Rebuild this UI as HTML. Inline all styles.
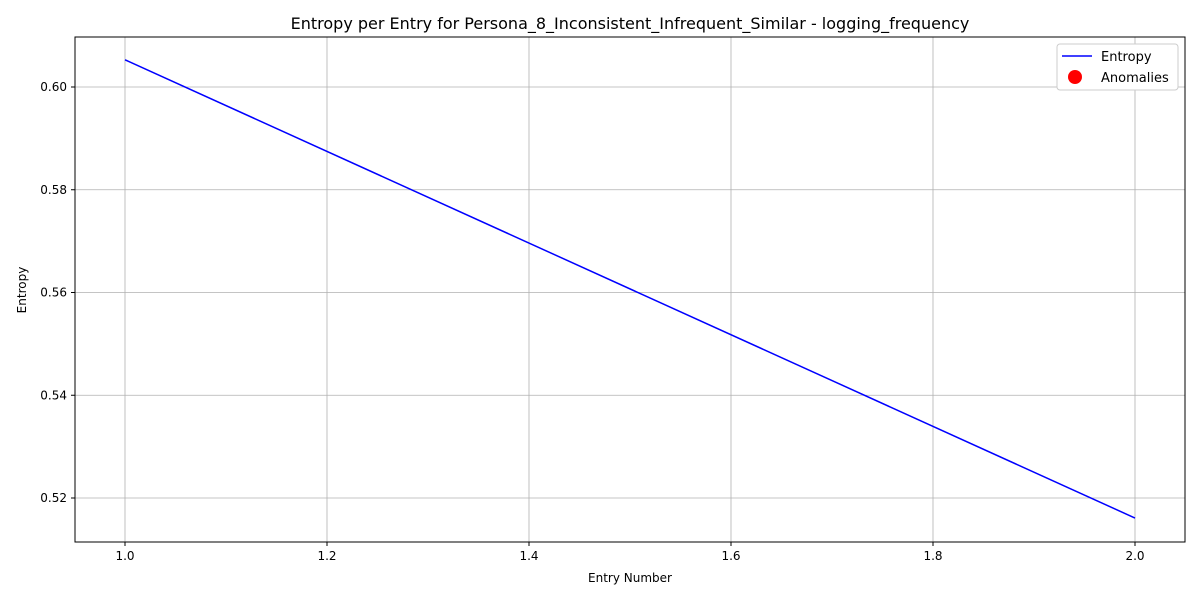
<!DOCTYPE html>
<html><head><meta charset="utf-8"><style>
body{margin:0;background:#fff;font-family:"Liberation Sans","DejaVu Sans",sans-serif}
</style></head><body>
<svg width="1200" height="600" xmlns="http://www.w3.org/2000/svg" font-family="DejaVu Sans, Liberation Sans, sans-serif">
<rect width="1200" height="600" fill="#fff"/>
<text x="630" y="29" text-anchor="middle" font-size="16">Entropy per Entry for Persona_8_Inconsistent_Infrequent_Similar - logging_frequency</text>
<g id="grid"></g>
<g id="ticks" font-size="12"></g>
<polyline id="line" fill="none" stroke="#0000ff" stroke-width="1.5"/>
<rect x="75" y="37" width="1110" height="505" fill="none" stroke="#000" stroke-width="1"/>
<text x="630" y="582" text-anchor="middle" font-size="12">Entry Number</text>
<text x="26" y="290" text-anchor="middle" font-size="12" transform="rotate(-90 26 290)">Entropy</text>
<g>
<rect x="1057" y="44" width="121" height="46" fill="#fff" stroke="#ccc" rx="3"/>
<line x1="1062" y1="56" x2="1092" y2="56" stroke="#0000ff" stroke-width="1.5"/>
<text x="1101" y="61" font-size="13">Entropy</text>
<circle cx="1075" cy="77" r="7" fill="#ff0000"/>
<text x="1101" y="82" font-size="13">Anomalies</text>
</g>
</svg>
<script>
const entries=[1,2];
const entropy=[0.6053,0.5161];
const xTicks=[1.0,1.2,1.4,1.6,1.8,2.0];
const yTicks=[0.52,0.54,0.56,0.58,0.60];
const NS="http://www.w3.org/2000/svg";
const xs=v=>125+(v-1)*1010;
const ys=v=>498-(v-0.52)/0.02*102.75;
const grid=document.getElementById('grid'),ticks=document.getElementById('ticks');
function mk(t,a,p){const e=document.createElementNS(NS,t);for(const k in a)e.setAttribute(k,a[k]);p.appendChild(e);return e;}
xTicks.forEach(v=>{const x=xs(v);
const g=mk('line',{x1:x,x2:x,y1:37,y2:542,stroke:'#b0b0b0','stroke-width':0.8},grid);


mk('line',{x1:x,x2:x,y1:542,y2:546,stroke:'#000'},ticks);
const t=mk('text',{x:x,y:560,'text-anchor':'middle'},ticks);t.textContent=v.toFixed(1);

});
yTicks.forEach(v=>{const y=ys(v);
const g=mk('line',{x1:75,x2:1185,y1:y,y2:y,stroke:'#b0b0b0','stroke-width':0.8},grid);


mk('line',{x1:71,x2:75,y1:y,y2:y,stroke:'#000'},ticks);
const t=mk('text',{x:67,y:y+4,'text-anchor':'end'},ticks);t.textContent=v.toFixed(2);

});
document.getElementById('line').setAttribute('points',entries.map((e,i)=>xs(e)+','+ys(entropy[i])).join(' '));
</script>
</body></html>
